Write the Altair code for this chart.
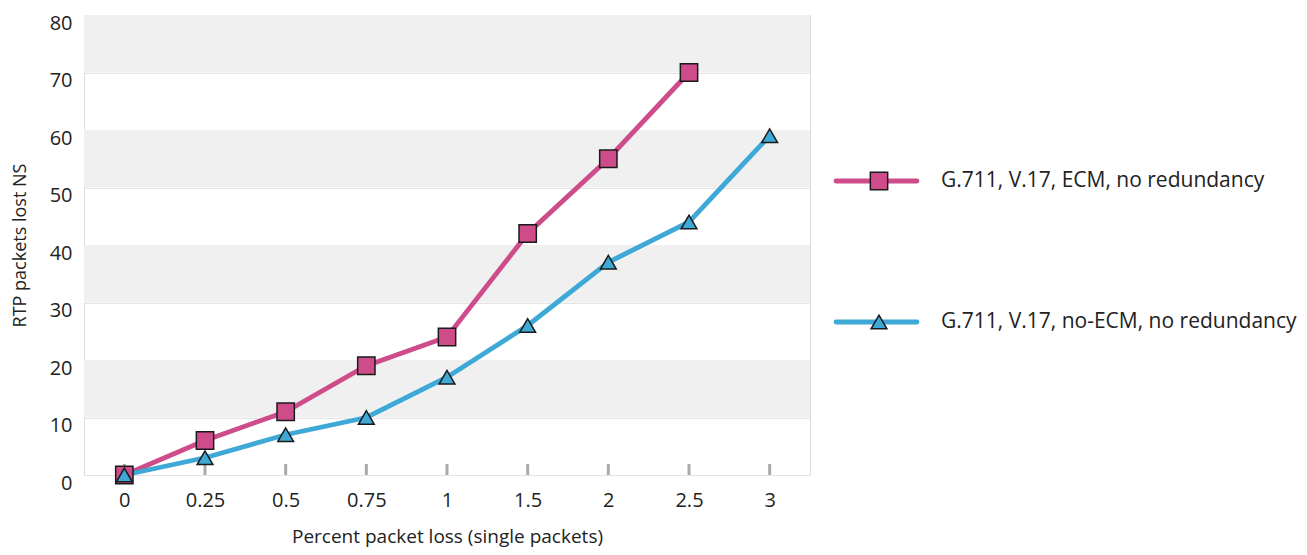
import altair as alt
import pandas as pd

categories = ["0", "0.25", "0.5", "0.75", "1", "1.5", "2", "2.5", "3"]
ecm = [0, 6, 11, 19, 24, 42, 55, 70, None]
no_ecm = [0, 3, 7, 10, 17, 26, 37, 44, 59]
series_names = ["G.711, V.17, ECM, no redundancy", "G.711, V.17, no-ECM, no redundancy"]
y_ticks = [0, 10, 20, 30, 40, 50, 60, 70, 80]
band_starts = [10, 30, 50, 70]

PINK = "#cf4c8b"
BLUE = "#3ea8d6"
FONT = "Open Sans"
W, H = 726, 460

rows = []
for c, v in zip(categories, ecm):
    if v is not None:
        rows.append({"x": c, "y": v, "s": series_names[0]})
for c, v in zip(categories, no_ecm):
    rows.append({"x": c, "y": v, "s": series_names[1]})
df = pd.DataFrame(rows)
df_ecm = df[df.s == series_names[0]]
df_no = df[df.s == series_names[1]]

xscale = alt.Scale(type="point", domain=categories, padding=0.5)
yscale = alt.Scale(domain=[0, 80], nice=False)

xenc = alt.X("x:O", scale=xscale, sort=categories,
             axis=alt.Axis(title="Percent packet loss (single packets)", labelAngle=0,
                           labelFontSize=20, labelColor="#222", labelPadding=15,
                           ticks=False, domain=False, grid=False,
                           titleFontSize=19, titleFontWeight="normal", titleColor="#222",
                           titlePadding=17, labelFont=FONT, titleFont=FONT))

bands = pd.DataFrame({"y0": band_starts, "y1": [b + 10 for b in band_starts]})
band_layer = alt.Chart(bands).mark_rect(color="#f0f0f0").encode(
    y=alt.Y("y0:Q", scale=yscale,
            axis=alt.Axis(title="RTP packets lost NS", values=y_ticks, labelFontSize=20,
                          labelColor="#222", labelPadding=12, labelOffset=8,
                          ticks=False, domain=False,
                          grid=True, gridColor="#e4e4e4", gridWidth=1,
                          titleFontSize=18, titleFontWeight="normal", titleColor="#222",
                          titlePadding=20, labelFont=FONT, titleFont=FONT)),
    y2="y1:Q",
    x=alt.value(0), x2=alt.value(W),
)

tick_layer = alt.Chart(pd.DataFrame({"x": categories})).mark_rule(
    color="#aaaaaa", strokeWidth=3).encode(
    x=xenc, y=alt.value(H - 11), y2=alt.value(H))

def series(d, color, shape, size):
    line = alt.Chart(d).mark_line(color=color, strokeWidth=4.8).encode(
        x=alt.X("x:O", scale=xscale, sort=categories), y=alt.Y("y:Q", scale=yscale))
    pts = alt.Chart(d).mark_point(shape=shape, filled=True, fill=color, stroke="#1a1a1a",
                                  strokeWidth=1.5, size=size, opacity=1).encode(
        x=alt.X("x:O", scale=xscale, sort=categories), y=alt.Y("y:Q", scale=yscale))
    return line, pts

l1, p1 = series(df_ecm, PINK, "square", 300)
l2, p2 = series(df_no, BLUE, "triangle-up", 250)

# custom legend
leg_rows = [
    {"s": series_names[0], "ly": 166, "color": PINK, "shape": "square", "size": 300},
    {"s": series_names[1], "ly": 307, "color": BLUE, "shape": "triangle-up", "size": 250},
]
legend_layers = []
for r in leg_rows:
    ld = pd.DataFrame([r])
    legend_layers.append(alt.Chart(ld).mark_rule(color=r["color"], strokeWidth=4.8,
                                                 strokeCap="round").encode(
        x=alt.value(752), x2=alt.value(833), y=alt.value(r["ly"])))
    legend_layers.append(alt.Chart(ld).mark_point(shape=r["shape"], filled=True, fill=r["color"],
                                                  stroke="#1a1a1a", strokeWidth=1.5,
                                                  size=r["size"], opacity=1).encode(
        x=alt.value(795), y=alt.value(r["ly"])))
    legend_layers.append(alt.Chart(ld).mark_text(align="left", baseline="middle", fontSize=21,
                                                 font=FONT, color="#222").encode(
        x=alt.value(857), y=alt.value(r["ly"]), text="s:N"))

chart = alt.layer(band_layer, tick_layer, l1, l2, p1, p2, *legend_layers).properties(
    width=W, height=H, padding={"left": 3, "top": 5, "right": 0, "bottom": 4}
).configure_view(stroke="#e0e0e0", strokeWidth=1).configure(background="white")

chart.save("out.html", embed_options={"renderer": "svg", "actions": False})
